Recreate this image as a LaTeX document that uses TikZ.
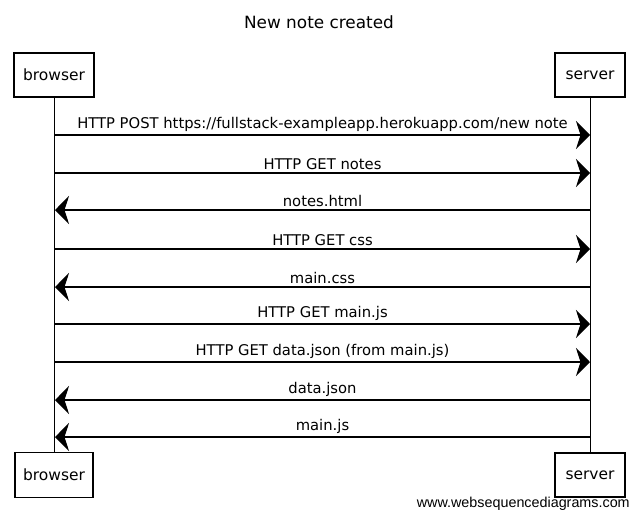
\documentclass[tikz,border=0pt]{standalone}
\usepackage{fontspec}
\setmainfont{DejaVu Sans}
\newfontfamily\wsdfont{Liberation Sans}
\usepackage{tikz}
\usetikzlibrary{positioning,quotes,arrows.meta}
\tikzstyle{reqMsg}=[-{Stealth[length=10pt,width=20pt]}, black, thick]
\tikzstyle{repMsg}=[-{Stealth[length=10pt,width=20pt]}, black, thick]
\tikzstyle{actor}=[rectangle, draw=black, thick, inner sep=0pt, font=\fontsize{11}{13}\selectfont]
\tikzstyle{lifeline}=[black, thin]
\tikzset{every edge quotes/.style={above, font=\fontsize{10.5}{12}\selectfont, inner sep=2pt}}

\begin{document}
\begin{tikzpicture}[x=0.025cm, y=-0.025cm]
        \useasboundingbox (0,0) rectangle (639,521);
        \node [font=\fontsize{12}{14}\selectfont] (title) at (319, 22) {New note created};

        % participants
        \node [style=actor, minimum width=80*0.025cm, minimum height=44*0.025cm] (browserTop) at (54, 75) {browser};
        \node [style=actor, minimum width=70*0.025cm, minimum height=44*0.025cm] (serverTop) at (590, 75) {server};
        \node [style=actor, minimum width=78*0.025cm, minimum height=45*0.025cm] (browserBot) at (54, 475) {browser};
        \node [style=actor, minimum width=70*0.025cm, minimum height=44*0.025cm] (serverBot) at (590, 475) {server};

        %Lifelines
        \draw [style={lifeline}] (browserTop.south) -- (browserBot.north);
        \draw [style={lifeline}] (serverTop.south) -- (serverBot.north);

        % message ends
        \coordinate (b1) at (55, 135); \coordinate (s1) at (590, 135);
        \coordinate (b2) at (55, 173); \coordinate (s2) at (590, 173);
        \coordinate (b3) at (55, 210); \coordinate (s3) at (590, 210);
        \coordinate (b4) at (55, 249); \coordinate (s4) at (590, 249);
        \coordinate (b5) at (55, 287); \coordinate (s5) at (590, 287);
        \coordinate (b6) at (55, 324); \coordinate (s6) at (590, 324);
        \coordinate (b7) at (55, 362); \coordinate (s7) at (590, 362);
        \coordinate (b8) at (55, 400); \coordinate (s8) at (590, 400);
        \coordinate (b9) at (55, 437); \coordinate (s9) at (590, 437);

        % Messages
        \draw [style={reqMsg}] (b1) to["HTTP POST https://fullstack-exampleapp.herokuapp.com/new note"] (s1);
        \draw [style={reqMsg}] (b2) to["HTTP GET notes"] (s2);
        \draw [style={repMsg}] (s3) to["notes.html"'] (b3);
        \draw [style={reqMsg}] (b4) to["HTTP GET css"] (s4);
        \draw [style={repMsg}] (s5) to["main.css"'] (b5);
        \draw [style={reqMsg}] (b6) to["HTTP GET main.js"] (s6);
        \draw [style={reqMsg}] (b7) to["HTTP GET data.json (from main.js)"] (s7);
        \draw [style={repMsg}] (s8) to["data.json"'] (b8);
        \draw [style={repMsg}] (s9) to["main.js"'] (b9);

        \node [anchor=south east, font=\wsdfont\fontsize{10.2}{12}\selectfont, inner sep=0pt] (credit) at (630, 511) {www.websequencediagrams.com};
    \end{tikzpicture}
\end{document}
